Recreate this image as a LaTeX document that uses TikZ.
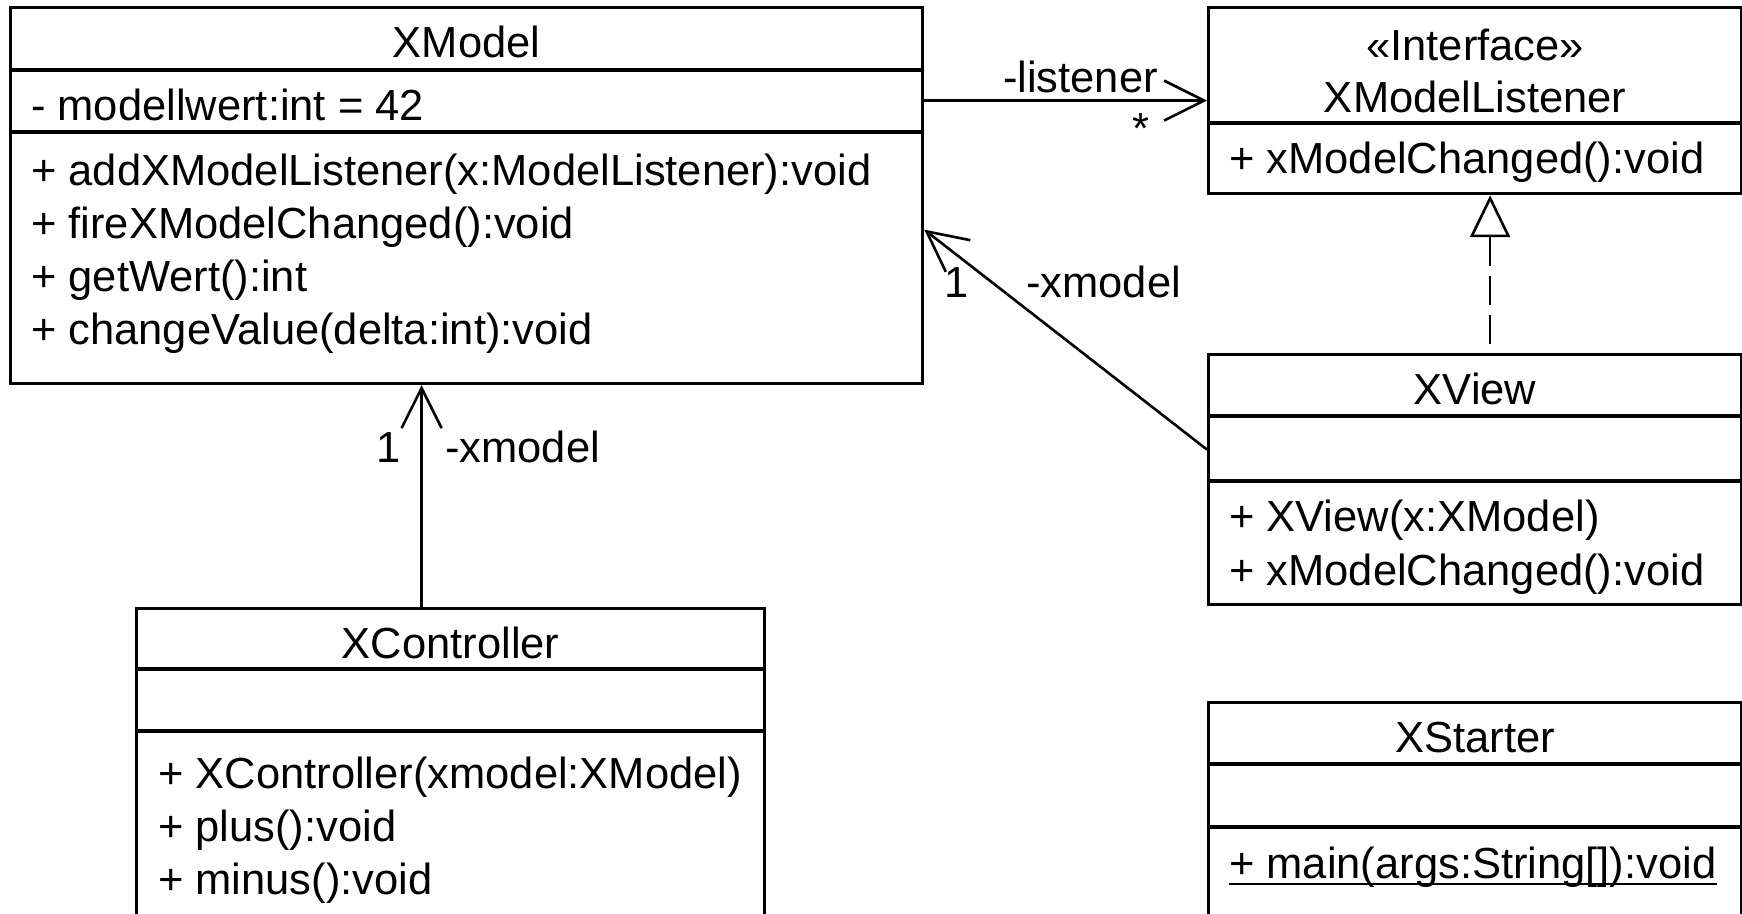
\documentclass[tikz,border=0pt]{standalone}
\usepackage{fontspec}
\setmainfont{Liberation Sans}
\usetikzlibrary{arrows.meta}
\begin{document}
\begin{tikzpicture}[x=1pt,y=-1pt,
  umlbox/.style={draw, line width=3.2pt, inner sep=0pt, anchor=north west},
  divline/.style={line width=3.2pt},
  txt/.style={inner sep=0pt, font=\fontsize{43.5}{52}\selectfont},
  assoc/.style={line width=2.6pt, -{Straight Barb[length=40pt,width=40pt]}},
  realiz/.style={line width=2.6pt, dash pattern=on 29pt off 10pt, {Triangle[open,length=42pt,width=40pt]}-},
]
\useasboundingbox (0,0) rectangle (1742,913);
\clip (0,0) rectangle (1742,913);

% XModel
\node[umlbox, minimum width=912pt, minimum height=376pt] (model) at (9,6) {};
\draw[divline] (model.west |- 0,70) -- (model.east |- 0,70);
\draw[divline] (model.west |- 0,132) -- (model.east |- 0,132);
\node[txt, anchor=base] (modelT) at (model.north |- 0,57) {XModel};
\node[txt, anchor=base west] (modelA) at (31,120) {- modellwert:int = 42};
\node[txt, anchor=base west] (modelM1) at (31,185) {+ addXModelListener(x:ModelListener):void};
\node[txt, anchor=base west] (modelM2) at (31,238) {+ fireXModelChanged():void};
\node[txt, anchor=base west] (modelM3) at (31,291) {+ getWert():int};
\node[txt, anchor=base west] (modelM4) at (31,344) {+ changeValue(delta:int):void};

% XModelListener
\node[umlbox, minimum width=533pt, minimum height=186pt] (lis) at (1207,6) {};
\draw[divline] (lis.west |- 0,123) -- (lis.east |- 0,123);
\node[txt, anchor=base] (lisS) at (lis.north |- 0,60) {«Interface»};
\node[txt, anchor=base] (lisT) at (lis.north |- 0,112) {XModelListener};
\node[txt, anchor=base west] (lisM1) at (1229,173) {+ xModelChanged():void};

% XView
\node[umlbox, minimum width=533pt, minimum height=250pt] (view) at (1207,353) {};
\draw[divline] (view.west |- 0,416) -- (view.east |- 0,416);
\draw[divline] (view.west |- 0,481) -- (view.east |- 0,481);
\node[txt, anchor=base] (viewT) at (view.north |- 0,404) {XView};
\node[txt, anchor=base west] (viewM1) at (1229,531) {+ XView(x:XModel)};
\node[txt, anchor=base west] (viewM2) at (1229,585) {+ xModelChanged():void};

% XStarter
\node[umlbox, minimum width=533pt, minimum height=240pt] (start) at (1207,701) {};
\draw[divline] (start.west |- 0,764) -- (start.east |- 0,764);
\draw[divline] (start.west |- 0,827) -- (start.east |- 0,827);
\node[txt, anchor=base] (startT) at (start.north |- 0,752) {XStarter};
\node[txt, anchor=base west] (startM1) at (1229,878) {+ main(args:String[]):void};
\draw[line width=2.4pt] ([yshift=-6pt]startM1.base west) -- ([yshift=-6pt]startM1.base east);

% XController
\node[umlbox, minimum width=628pt, minimum height=330pt] (ctrl) at (135,607) {};
\draw[divline] (ctrl.west |- 0,669) -- (ctrl.east |- 0,669);
\draw[divline] (ctrl.west |- 0,731) -- (ctrl.east |- 0,731);
\node[txt, anchor=base] (ctrlT) at (ctrl.north |- 0,658) {XController};
\node[txt, anchor=base west] (ctrlM1) at (158,788) {+ XController(xmodel:XModel)};
\node[txt, anchor=base west] (ctrlM2) at (158,841) {+ plus():void};
\node[txt, anchor=base west] (ctrlM3) at (158,894) {+ minus():void};

% connectors
\draw[assoc] (model.east |- lis.west) -- (lis.west);
\node[txt, anchor=base east] (lblL) at (1158,92) {-listener};
\node[txt, anchor=base] (lblStar) at (1141,143) {*};

\coordinate (vstart) at ([yshift=30pt]view.west);
\coordinate (vend) at ([yshift=-34pt]model.east);
\draw[assoc] (vstart) -- (vend);
\node[txt, anchor=base west] (lblV1) at (944,297) {1};
\node[txt, anchor=base west] (lblVx) at (1026,297) {-xmodel};

\coordinate (cstart) at ([xshift=-29pt]ctrl.north);
\draw[assoc] (cstart) -- (cstart |- model.south);
\node[txt, anchor=base west] (lblC1) at (376,462) {1};
\node[txt, anchor=base west] (lblCx) at (445,462) {-xmodel};

\coordinate (rbot) at ([xshift=15pt]view.north);
\draw[realiz] (rbot |- lis.south) -- (rbot);
\end{tikzpicture}
\end{document}
